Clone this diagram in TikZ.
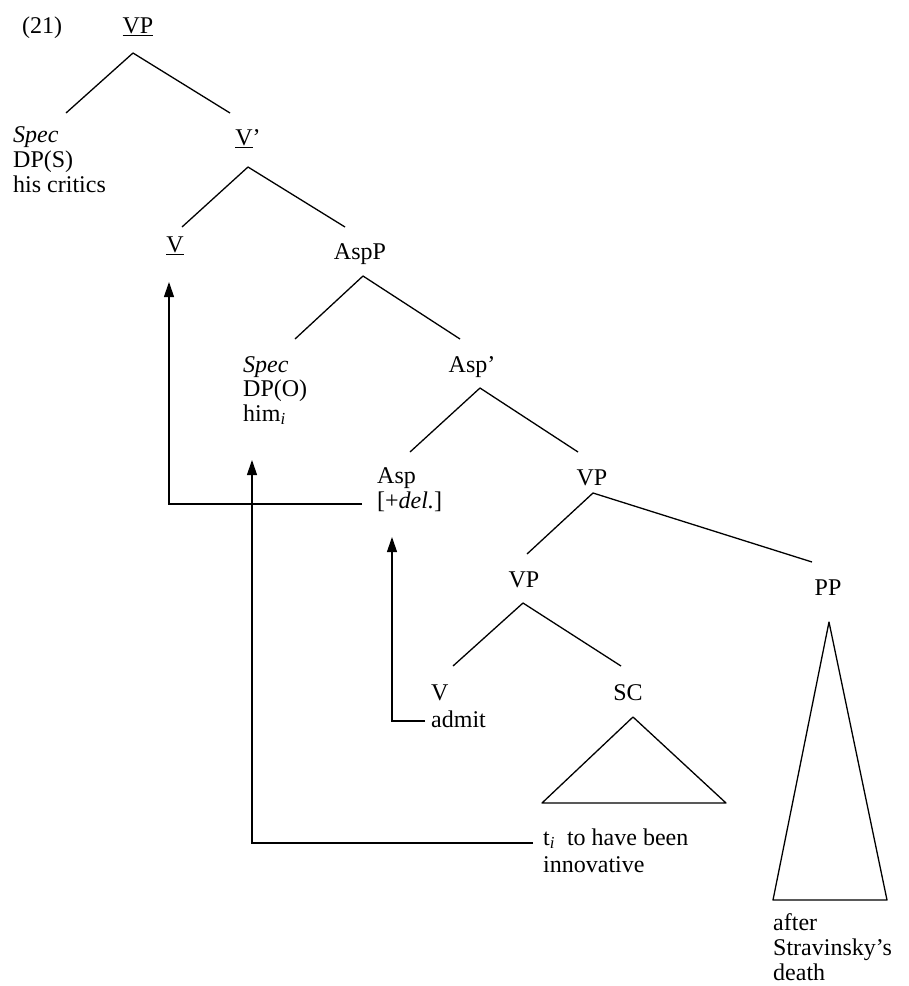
\documentclass[tikz,border=0pt]{standalone}
\usepackage{fontspec}
\setmainfont{Liberation Serif}
\usetikzlibrary{arrows.meta}
\newcommand{\idx}{\textsubscript{\textit{i}}}
\begin{document}
\begin{tikzpicture}[x=1pt,y=-1pt,
  lbl/.style={inner sep=0pt, anchor=base, font=\fontsize{24}{24}\selectfont},
  lbll/.style={lbl, anchor=base west},
  branch/.style={line width=1.3pt, line join=round},
  move/.style={line width=1.2pt, -{Triangle[length=15pt,width=10pt]}}]
\useasboundingbox (0,0) rectangle (909,986);

% ---- labels ----
\node[lbll] (ex) at (22,33) {(21)};
\node[lbl] (vp0) at (138,33) {\underline{VP}};

\node[lbll] (specS) at (13,142) {\textit{Spec}};
\node[lbll] (dpS) at (13,167) {DP(S)};
\node[lbll] (critics) at (13,192) {his critics};
\node[lbl] (vbar) at (248,145) {\underline{V}'};

\node[lbl] (vhead) at (175,252) {\underline{V}};
\node[lbl] (aspP) at (360,259) {AspP};

\node[lbll] (specO) at (243,372) {\textit{Spec}};
\node[lbll] (dpO) at (243,396) {DP(O)};
\node[lbll] (him) at (243,421) {him\idx};
\node[lbl] (aspbar) at (472,372) {Asp'};

\node[lbll] (asp) at (377,483) {Asp};
\node[lbll] (del) at (377,508) {[+\textit{del.}]};
\node[lbl] (vp1) at (592,485) {VP};

\node[lbl] (vp2) at (524,587) {VP};
\node[lbl] (pp) at (828,595) {PP};

\node[lbll] (vlow) at (431,700) {V};
\node[lbll] (admit) at (431,727) {admit};
\node[lbl] (sc) at (628,700) {SC};

\node[lbll] (ti) at (543,845) {t\idx\ \ to have been};
\node[lbll] (innov) at (543,872) {innovative};

\node[lbll] (after) at (773,930) {after};
\node[lbll] (strav) at (773,955) {Stravinsky's};
\node[lbll] (death) at (773,980) {death};

% ---- branch points ----
\coordinate (vp0b) at (133,53);
\coordinate (specSt) at (66,113);
\coordinate (vbart) at (230,113);
\coordinate (vbarb) at (248,167);
\coordinate (vheadt) at (182,227);
\coordinate (aspPt) at (345,227);
\coordinate (aspPb) at (363,276);
\coordinate (specOt) at (295,339);
\coordinate (aspbart) at (460,339);
\coordinate (aspbarb) at (480,388);
\coordinate (aspt) at (410,452);
\coordinate (vp1t) at (578,452);
\coordinate (vp1b) at (593,493);
\coordinate (vp2t) at (527,554);
\coordinate (ppt) at (812,562);
\coordinate (vp2b) at (523,603);
\coordinate (vlowt) at (453,666);
\coordinate (sct) at (621,666);

% ---- tree branches ----
\draw[branch] (specSt) -- (vp0b) -- (vbart);
\draw[branch] (vheadt) -- (vbarb) -- (aspPt);
\draw[branch] (specOt) -- (aspPb) -- (aspbart);
\draw[branch] (aspt) -- (aspbarb) -- (vp1t);
\draw[branch] (vp2t) -- (vp1b) -- (ppt);
\draw[branch] (vlowt) -- (vp2b) -- (sct);

% ---- triangles ----
\draw[branch] (633,717) coordinate (scA) -- (542,803) -- (726,803) -- cycle;
\draw[branch] (829,622) coordinate (ppA) -- (773,900) -- (887,900) -- cycle;

% ---- movement arrows ----
\coordinate (delR) at (362,504);
\coordinate (c1) at (169,504);
\coordinate (vheadArr) at (169,282);
\draw[move] (delR) -- (c1) -- (vheadArr);

\coordinate (tiL) at (533,843);
\coordinate (c2) at (252,843);
\coordinate (himArr) at (252,460);
\draw[move] (tiL) -- (c2) -- (himArr);

\coordinate (admitL) at (425,721);
\coordinate (c3) at (392,721);
\coordinate (delArr) at (392,537);
\draw[move] (admitL) -- (c3) -- (delArr);
\end{tikzpicture}
\end{document}
